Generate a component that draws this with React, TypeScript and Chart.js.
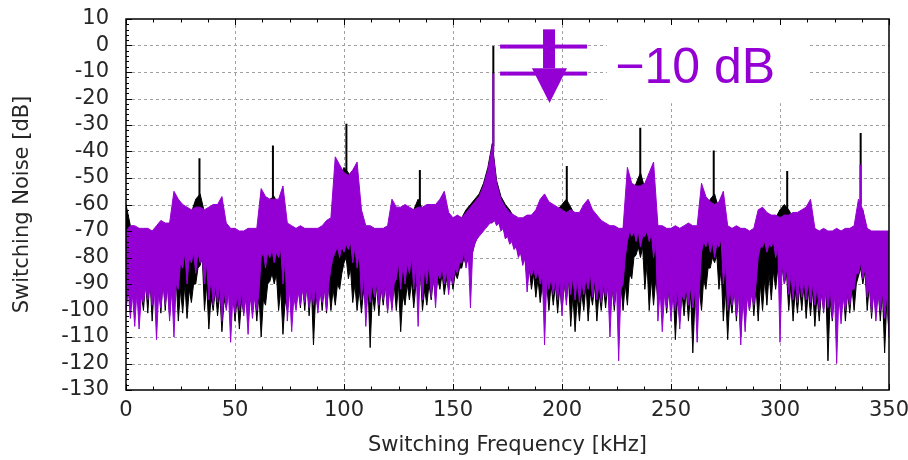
import React, { useEffect, useRef } from "react";
import { Chart, registerables } from "chart.js";

Chart.register(...registerables);

// Frequency grid of the sampled envelopes [kHz]
const freqs: number[] = Array.from({ length: 176 }, (_, i) => i * 2);

// Purple trace (after, -10 dB): upper envelope [dB]
const purpleHigh: number[] = [
  -70, -68, -68, -69, -69, -69, -70, -68, -66, -67,
  -67, -55, -58, -60, -61, -62, -61, -61, -62, -61,
  -60, -60, -57, -67, -69, -69, -70, -70, -69, -69,
  -69, -54, -57, -58, -58, -58, -53, -67, -68, -69,
  -68, -69, -69, -69, -69, -68, -66, -65, -42, -45,
  -48, -49, -47, -44, -62, -68, -68, -69, -69, -69,
  -68, -58, -61, -61, -60, -61, -62, -61, -61, -60,
  -60, -60, -58, -55, -63, -65, -64, -65, -63, -61,
  -59, -57, -53, -47, -38, -52, -58, -61, -63, -64,
  -65, -65, -64, -64, -62, -58, -56, -59, -60, -61,
  -62, -63, -62, -63, -63, -60, -58, -62, -64, -66,
  -67, -68, -68, -69, -69, -46, -52, -53, -53, -52,
  -48, -44, -68, -68, -69, -69, -68, -69, -68, -67,
  -68, -68, -52, -57, -59, -60, -59, -55, -68, -69,
  -68, -69, -69, -70, -69, -62, -61, -63, -64, -64,
  -65, -64, -64, -63, -63, -62, -61, -58, -69, -70,
  -69, -70, -70, -69, -70, -69, -69, -68, -58, -62,
  -69, -70, -70, -70, -70, -70,
];

// Purple trace: bottom of the solid noise body [dB]
const purpleBody: number[] = [
  -92, -94, -93, -95, -91, -90, -92, -93, -90, -91,
  -92, -90, -82, -78, -80, -78, -78, -80, -82, -88,
  -90, -90, -92, -93, -95, -94, -93, -95, -94, -95,
  -93, -78, -78, -77, -78, -77, -80, -92, -95, -93,
  -92, -91, -92, -91, -93, -92, -90, -80, -76, -76,
  -75, -74, -76, -78, -86, -92, -90, -90, -91, -90,
  -92, -90, -82, -83, -82, -80, -82, -84, -84, -82,
  -86, -86, -84, -85, -86, -84, -82, -78, -78, -78,
  -73, -71, -69, -67, -66, -67, -69, -72, -74, -76,
  -78, -80, -84, -84, -85, -86, -88, -88, -88, -88,
  -88, -88, -87, -88, -89, -88, -86, -88, -90, -90,
  -90, -91, -90, -92, -80, -70, -70, -70, -72, -70,
  -71, -74, -92, -94, -92, -93, -92, -94, -92, -91,
  -92, -92, -74, -73, -74, -75, -73, -82, -92, -92,
  -93, -94, -95, -94, -90, -76, -74, -75, -74, -76,
  -82, -84, -86, -87, -88, -88, -89, -90, -91, -92,
  -92, -92, -93, -94, -95, -93, -92, -86, -82, -84,
  -90, -93, -94, -93, -94, -95,
];

// Purple trace: tips of the downward noise spikes [dB]
const purpleLow: number[] = [
  -100, -103, -106, -107, -97, -96, -98, -111, -99, -98,
  -104, -110, -92, -84, -90, -82, -86, -82, -90, -96,
  -98, -97, -104, -100, -112, -101, -100, -102, -109, -103,
  -100, -80, -84, -80, -82, -80, -90, -104, -108, -100,
  -98, -97, -99, -98, -101, -97, -100, -84, -78, -80,
  -78, -77, -82, -84, -96, -106, -97, -95, -98, -96,
  -101, -100, -88, -92, -90, -86, -92, -106, -96, -90,
  -95, -99, -88, -90, -94, -90, -86, -82, -84, -99,
  -75, -72, -70, -68, -67, -68, -70, -73, -75, -77,
  -80, -83, -93, -87, -88, -90, -113, -92, -94, -96,
  -102, -98, -94, -96, -97, -94, -92, -95, -96, -97,
  -95, -110, -98, -119, -90, -74, -72, -74, -76, -72,
  -74, -80, -104, -108, -99, -104, -100, -107, -96, -98,
  -99, -112, -78, -76, -78, -80, -76, -90, -100, -98,
  -102, -113, -108, -100, -98, -80, -76, -78, -76, -80,
  -112, -90, -94, -96, -97, -95, -96, -97, -98, -100,
  -101, -99, -103, -120, -105, -100, -98, -92, -86, -88,
  -95, -101, -104, -100, -103, -110,
];

// Black trace (before): upper envelope [dB]
const blackHigh: number[] = [
  -60, -68, -70, -71, -71, -71, -72, -70, -69, -70,
  -70, -60, -61, -62, -63, -63, -58, -56, -63, -63,
  -63, -63, -62, -70, -71, -71, -72, -72, -71, -71,
  -71, -60, -60, -58, -57, -61, -60, -70, -70, -71,
  -70, -71, -71, -71, -71, -70, -69, -68, -50, -50,
  -46, -48, -52, -52, -64, -70, -70, -71, -71, -71,
  -70, -63, -64, -64, -63, -63, -62, -58, -62, -63,
  -63, -63, -62, -61, -65, -66, -65, -65, -62, -60,
  -58, -56, -52, -46, -37, -51, -57, -60, -62, -65,
  -66, -66, -66, -66, -65, -63, -62, -63, -63, -62,
  -60, -58, -61, -64, -65, -64, -63, -65, -66, -68,
  -69, -70, -70, -71, -71, -56, -56, -52, -48, -54,
  -56, -56, -70, -70, -71, -71, -70, -71, -70, -69,
  -70, -70, -62, -62, -58, -56, -62, -62, -70, -71,
  -70, -71, -71, -72, -71, -66, -66, -66, -66, -65,
  -62, -60, -62, -65, -65, -65, -65, -64, -71, -72,
  -71, -72, -72, -71, -72, -71, -71, -70, -62, -62,
  -71, -72, -72, -72, -72, -72,
];

// Black trace: bottom of the solid noise body [dB]
const blackBody: number[] = [
  -90, -92, -91, -93, -89, -88, -90, -91, -88, -89,
  -90, -88, -92, -90, -92, -90, -84, -80, -90, -95,
  -92, -93, -96, -91, -93, -95, -96, -93, -94, -93,
  -94, -96, -90, -86, -86, -92, -96, -91, -91, -90,
  -90, -89, -90, -94, -91, -90, -90, -92, -90, -86,
  -80, -84, -90, -92, -92, -90, -94, -90, -91, -90,
  -90, -90, -90, -94, -90, -89, -90, -86, -92, -90,
  -88, -88, -86, -88, -86, -86, -84, -80, -80, -78,
  -73, -70, -68, -66, -65, -66, -68, -71, -73, -75,
  -78, -80, -84, -86, -88, -90, -90, -90, -90, -91,
  -90, -88, -94, -95, -93, -90, -93, -90, -93, -91,
  -90, -91, -90, -90, -90, -86, -80, -76, -76, -82,
  -88, -88, -90, -91, -92, -91, -95, -93, -92, -93,
  -96, -92, -88, -84, -80, -79, -84, -92, -95, -91,
  -92, -94, -92, -90, -91, -90, -88, -86, -85, -84,
  -84, -86, -90, -92, -91, -90, -92, -92, -94, -93,
  -91, -96, -93, -91, -92, -93, -91, -90, -84, -85,
  -90, -92, -91, -93, -96, -94,
];

// Black trace: tips of the downward noise spikes [dB]
const blackLow: number[] = [
  -100, -99, -97, -99, -100, -101, -104, -96, -101, -100,
  -102, -98, -104, -101, -103, -97, -90, -83, -100, -107,
  -100, -102, -108, -99, -100, -104, -107, -101, -104, -100,
  -104, -110, -98, -89, -90, -100, -109, -100, -98, -96,
  -99, -100, -102, -113, -99, -100, -101, -100, -98, -92,
  -82, -88, -97, -100, -101, -99, -114, -100, -102, -98,
  -100, -99, -100, -108, -98, -96, -99, -92, -100, -98,
  -96, -95, -92, -94, -92, -92, -88, -84, -83, -80,
  -74, -71, -69, -67, -66, -67, -69, -72, -74, -76,
  -79, -82, -88, -92, -95, -97, -99, -100, -98, -101,
  -100, -96, -106, -108, -104, -100, -104, -98, -104, -100,
  -99, -101, -100, -98, -100, -98, -88, -79, -80, -92,
  -100, -98, -96, -99, -101, -100, -111, -104, -102, -104,
  -116, -102, -100, -92, -84, -82, -92, -104, -111, -101,
  -104, -110, -104, -100, -102, -104, -100, -98, -96, -92,
  -88, -90, -100, -104, -101, -100, -103, -102, -106, -104,
  -100, -119, -104, -100, -102, -104, -101, -100, -87, -90,
  -100, -103, -101, -104, -116, -108,
];

// Narrow harmonic spurs of the black trace
const blackSpikeFreq: number[] = [33.7, 67.4, 101.1, 134.8, 168.5, 202.2, 235.9, 269.6, 303.3, 337.0];
const blackSpikeTop: number[] = [-42.5, -37.7, -29.5, -47, -0.2, -45.5, -31, -39.6, -47.4, -33];
const blackSpikeBase: number[] = [-62, -60, -50, -62, -38, -62, -55, -60, -62, -60];

// Narrow spurs of the purple trace
const purpleSpikeFreq: number[] = [168.5, 336.9];
const purpleSpikeTop: number[] = [-10.6, -45];
const purpleSpikeBase: number[] = [-40, -62];

// Axis ticks
const xTickStep = 50;
const yTickStep = 10;

const PURPLE = "rgb(148,0,211)";
const TEXT = "#262626";
const FONT = "DejaVu Sans";
const FSIZE = 21;

const pts = (ys: number[]) => freqs.map((x, i) => ({ x, y: ys[i] }));
// lower boundary: spike tip at each grid point, body level half-way to the next one
const lowerEdge = (tips: number[], body: number[]) =>
  freqs.flatMap((x, i) =>
    i < freqs.length - 1 ? [{ x, y: tips[i] }, { x: x + 1, y: body[i] }] : [{ x, y: tips[i] }]
  );
const spikes = (fs: number[], base: number[], top: number[]) =>
  fs.flatMap((f, i) => [
    { x: f, y: base[i] },
    { x: f, y: top[i] },
    { x: f, y: null as any },
  ]);

const decor = {
  id: "decor",
  beforeDatasetsDraw(chart: any) {
    const { ctx, chartArea, scales } = chart;
    const { left, right, top, bottom } = chartArea;
    const x = scales.x, y = scales.y;
    ctx.save();
    ctx.strokeStyle = "#a0a0a0";
    ctx.lineWidth = 1;
    ctx.setLineDash([3, 3]);
    for (let v = 50; v < 350; v += 50) {
      const px = Math.round(x.getPixelForValue(v)) + 0.5;
      ctx.beginPath();
      ctx.moveTo(px, top);
      ctx.lineTo(px, bottom);
      ctx.stroke();
    }
    for (let v = 0; v > -130; v -= 10) {
      const py = Math.round(y.getPixelForValue(v)) + 0.5;
      ctx.beginPath();
      ctx.moveTo(left, py);
      ctx.lineTo(right, py);
      ctx.stroke();
    }
    ctx.setLineDash([]);
    // white panel behind the annotation text
    const bx0 = x.getPixelForValue(220.6);
    const bx1 = x.getPixelForValue(312.8);
    const by1 = y.getPixelForValue(-21.8);
    ctx.fillStyle = "#ffffff";
    ctx.fillRect(bx0, top, bx1 - bx0, by1 - top);
    ctx.restore();
  },
  afterDatasetsDraw(chart: any) {
    const { ctx, chartArea, scales } = chart;
    const { left, right, top, bottom } = chartArea;
    const x = scales.x, y = scales.y;
    ctx.save();
    ctx.strokeStyle = "#000";
    ctx.lineWidth = 1;
    for (let v = 0; v <= 350.001; v += 12.5) {
      const px = Math.round(x.getPixelForValue(v)) + 0.5;
      const len = Math.abs(v % 50) < 0.01 ? 6 : 3.5;
      ctx.beginPath();
      ctx.moveTo(px, bottom);
      ctx.lineTo(px, bottom - len);
      ctx.moveTo(px, top);
      ctx.lineTo(px, top + len);
      ctx.stroke();
    }
    for (let v = -130; v <= 10.001; v += 2) {
      const py = Math.round(y.getPixelForValue(v)) + 0.5;
      const len = Math.abs(v % 10) < 0.01 ? 6 : 3;
      ctx.beginPath();
      ctx.moveTo(left, py);
      ctx.lineTo(left + len, py);
      ctx.stroke();
    }
    ctx.lineWidth = 1.5;
    ctx.strokeRect(left, top, right - left, bottom - top);

    // annotation: two level bars, arrow and label
    ctx.fillStyle = PURPLE;
    const b0 = x.getPixelForValue(171.6);
    const b1 = x.getPixelForValue(211.5);
    for (const lv of [-0.4, -10.6]) {
      const py = y.getPixelForValue(lv);
      ctx.fillRect(b0, py - 2, b1 - b0, 4);
    }
    const s0 = x.getPixelForValue(191.3);
    const s1 = x.getPixelForValue(196.8);
    const sy0 = y.getPixelForValue(6.1);
    const sy1 = y.getPixelForValue(-8.6);
    ctx.fillRect(s0, sy0, s1 - s0, sy1 - sy0);
    ctx.beginPath();
    ctx.moveTo(x.getPixelForValue(186.2), sy1);
    ctx.lineTo(x.getPixelForValue(202.3), sy1);
    ctx.lineTo(x.getPixelForValue(194.3), y.getPixelForValue(-21.7));
    ctx.closePath();
    ctx.fill();
    ctx.font = '50px "Liberation Sans", Arial, sans-serif';
    ctx.textBaseline = "alphabetic";
    ctx.textAlign = "left";
    ctx.fillText("\u221210 dB", x.getPixelForValue(224.4), y.getPixelForValue(-14.1));
    ctx.restore();
  },
};

export default function App() {
  const ref = useRef<HTMLCanvasElement>(null);
  useEffect(() => {
    const lineBase = { pointRadius: 0, tension: 0, spanGaps: false };
    const chart = new Chart(ref.current as HTMLCanvasElement, {
      type: "line",
      data: {
        datasets: [
          { ...lineBase, label: "purple spurs", data: spikes(purpleSpikeFreq, purpleSpikeBase, purpleSpikeTop), borderColor: PURPLE, borderWidth: 2, fill: false },
          { ...lineBase, label: "purple high", data: pts(purpleHigh), borderColor: PURPLE, backgroundColor: PURPLE, borderWidth: 1, fill: "+1" },
          { ...lineBase, label: "purple low", data: lowerEdge(purpleLow, purpleBody), borderColor: PURPLE, borderWidth: 1, fill: false },
          { ...lineBase, label: "black spurs", data: spikes(blackSpikeFreq, blackSpikeBase, blackSpikeTop), borderColor: "#000", borderWidth: 2, fill: false },
          { ...lineBase, label: "black high", data: pts(blackHigh), borderColor: "#000", backgroundColor: "#000", borderWidth: 1, fill: "+1" },
          { ...lineBase, label: "black low", data: lowerEdge(blackLow, blackBody), borderColor: "#000", borderWidth: 1, fill: false },
        ] as any,
      },
      options: {
        responsive: false,
        animation: false,
        devicePixelRatio: 1,
        events: [],
        layout: { padding: { left: 0, right: 19, top: 19, bottom: 0 } },
        plugins: { legend: { display: false }, tooltip: { enabled: false } },
        scales: {
          x: {
            type: "linear",
            min: 0,
            max: 350,
            grid: { display: false, drawTicks: false },
            border: { display: false },
            ticks: { stepSize: xTickStep, padding: 8, color: TEXT, font: { family: FONT, size: FSIZE }, maxRotation: 0, autoSkip: false, callback: (v: any) => String(v) },
            title: { display: true, text: "Switching Frequency [kHz]", color: TEXT, font: { family: FONT, size: FSIZE }, padding: { top: 0, bottom: 2 } },
            afterFit: (s: any) => { s.height = 70; s.paddingLeft = 0; s.paddingRight = 0; },
          },
          y: {
            type: "linear",
            min: -130,
            max: 10,
            grid: { display: false, drawTicks: false },
            border: { display: false },
            ticks: { stepSize: yTickStep, padding: 17, color: TEXT, font: { family: FONT, size: FSIZE }, autoSkip: false, callback: (v: any) => String(v) },
            title: { display: true, text: "Switching Noise [dB]", color: TEXT, font: { family: FONT, size: FSIZE }, padding: { top: 10, bottom: 0 } },
            afterFit: (s: any) => { s.width = 126; s.paddingTop = 0; s.paddingBottom = 0; },
          },
        },
      } as any,
      plugins: [decor],
    });
    return () => chart.destroy();
  }, []);
  return (
    <div style={{ position: "fixed", left: 0, top: 0, width: 908, height: 460, background: "#fff" }}>
      <canvas ref={ref} width={908} height={460} style={{ display: "block", width: 908, height: 460 }} />
    </div>
  );
}
